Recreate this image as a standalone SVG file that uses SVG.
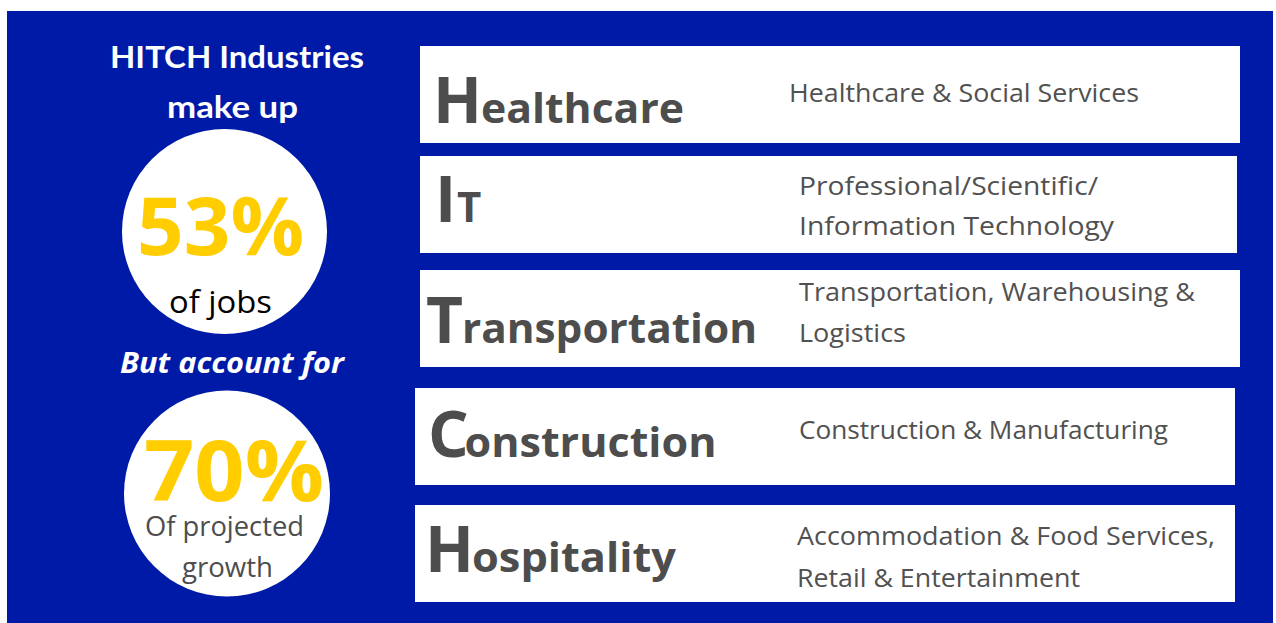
<svg xmlns="http://www.w3.org/2000/svg" width="1276" height="623" viewBox="0 0 1276 623">
<style>
.bg{fill:#001aa8}
.box{fill:#ffffff}
.circ{fill:#ffffff}
.head{font-family:"Lato","Open Sans",sans-serif;font-weight:700;fill:#ffffff}
.ital{font-family:"Open Sans",sans-serif;font-weight:700;font-style:italic;fill:#ffffff}
.pct{font-family:"Open Sans",sans-serif;font-weight:700;fill:#ffcd00}
.sub{font-family:"Open Sans",sans-serif;font-weight:400}
.big{font-family:"Open Sans",sans-serif;font-weight:700;fill:#4d4d4d;font-size:64px}
.small{font-family:"Open Sans",sans-serif;font-weight:700;fill:#4d4d4d;font-size:42px}
.desc{font-family:"Open Sans",sans-serif;font-weight:400;fill:#515151;font-size:25.5px}
</style>
<rect x="0" y="0" width="1276" height="623" fill="#ffffff"/>
<rect class="bg" x="7" y="11" width="1266" height="612"/>

<g id="summary">
  <text class="head" x="110" y="68" font-size="30" textLength="254" lengthAdjust="spacingAndGlyphs">HITCH Industries</text>
  <text class="head" x="167" y="118" font-size="30" textLength="131" lengthAdjust="spacingAndGlyphs">make up</text>
</g>
<g id="circle-jobs">
  <circle class="circ" cx="224.5" cy="231.5" r="102.5"/>
  <text class="pct" x="137" y="255" font-size="81" textLength="167" lengthAdjust="spacingAndGlyphs">53%</text>
  <text class="sub" x="169" y="313" font-size="31" fill="#000000" textLength="103" lengthAdjust="spacingAndGlyphs">of jobs</text>
</g>
<g id="account">
  <text class="ital" x="120" y="373" font-size="29" textLength="224" lengthAdjust="spacingAndGlyphs">But account for</text>
</g>
<g id="circle-growth">
  <circle class="circ" cx="227" cy="493.5" r="103"/>
  <text class="pct" x="144" y="501" font-size="85" textLength="180" lengthAdjust="spacingAndGlyphs">70%</text>
  <text class="sub" x="145" y="536" font-size="27" fill="#4d4d4d" textLength="159" lengthAdjust="spacingAndGlyphs">Of projected</text>
  <text class="sub" x="182" y="577" font-size="27" fill="#4d4d4d" textLength="91" lengthAdjust="spacingAndGlyphs">growth</text>
</g>

<g id="healthcare">
  <rect class="box" x="420" y="46" width="820" height="97"/>
  <text class="big" x="433" y="123.3">H</text>
  <text class="small" x="481" y="123.3" textLength="203" lengthAdjust="spacingAndGlyphs">ealthcare</text>
  <text class="desc" x="789" y="102" textLength="350" lengthAdjust="spacingAndGlyphs">Healthcare &amp; Social Services</text>
</g>
<g id="it">
  <rect class="box" x="420" y="156" width="817" height="97"/>
  <text class="big" x="435" y="222">I</text>
  <text class="small" x="457" y="222">T</text>
  <text class="desc" x="799" y="195" textLength="299" lengthAdjust="spacingAndGlyphs">Professional/Scientific/</text>
  <text class="desc" x="799" y="235" textLength="315" lengthAdjust="spacingAndGlyphs">Information Technology</text>
</g>
<g id="transportation">
  <rect class="box" x="420" y="270" width="820" height="97"/>
  <text class="big" x="426" y="342.7">T</text>
  <text class="small" x="462" y="342.7" textLength="295" lengthAdjust="spacingAndGlyphs">ransportation</text>
  <text class="desc" x="799" y="301" textLength="396" lengthAdjust="spacingAndGlyphs">Transportation, Warehousing &amp;</text>
  <text class="desc" x="799" y="341.5" textLength="107" lengthAdjust="spacingAndGlyphs">Logistics</text>
</g>
<g id="construction">
  <rect class="box" x="415" y="388" width="820" height="97"/>
  <text class="big" x="428" y="456.7">C</text>
  <text class="small" x="464.5" y="456.7" textLength="252" lengthAdjust="spacingAndGlyphs">onstruction</text>
  <text class="desc" x="799" y="439" textLength="369" lengthAdjust="spacingAndGlyphs">Construction &amp; Manufacturing</text>
</g>
<g id="hospitality">
  <rect class="box" x="415" y="505" width="820" height="97"/>
  <text class="big" x="425" y="571.7">H</text>
  <text class="small" x="472" y="571.7" textLength="204" lengthAdjust="spacingAndGlyphs">ospitality</text>
  <text class="desc" x="797" y="545" textLength="418" lengthAdjust="spacingAndGlyphs">Accommodation &amp; Food Services,</text>
  <text class="desc" x="797" y="586.5" textLength="283" lengthAdjust="spacingAndGlyphs">Retail &amp; Entertainment</text>
</g>
<g id="connectors"></g>
</svg>
